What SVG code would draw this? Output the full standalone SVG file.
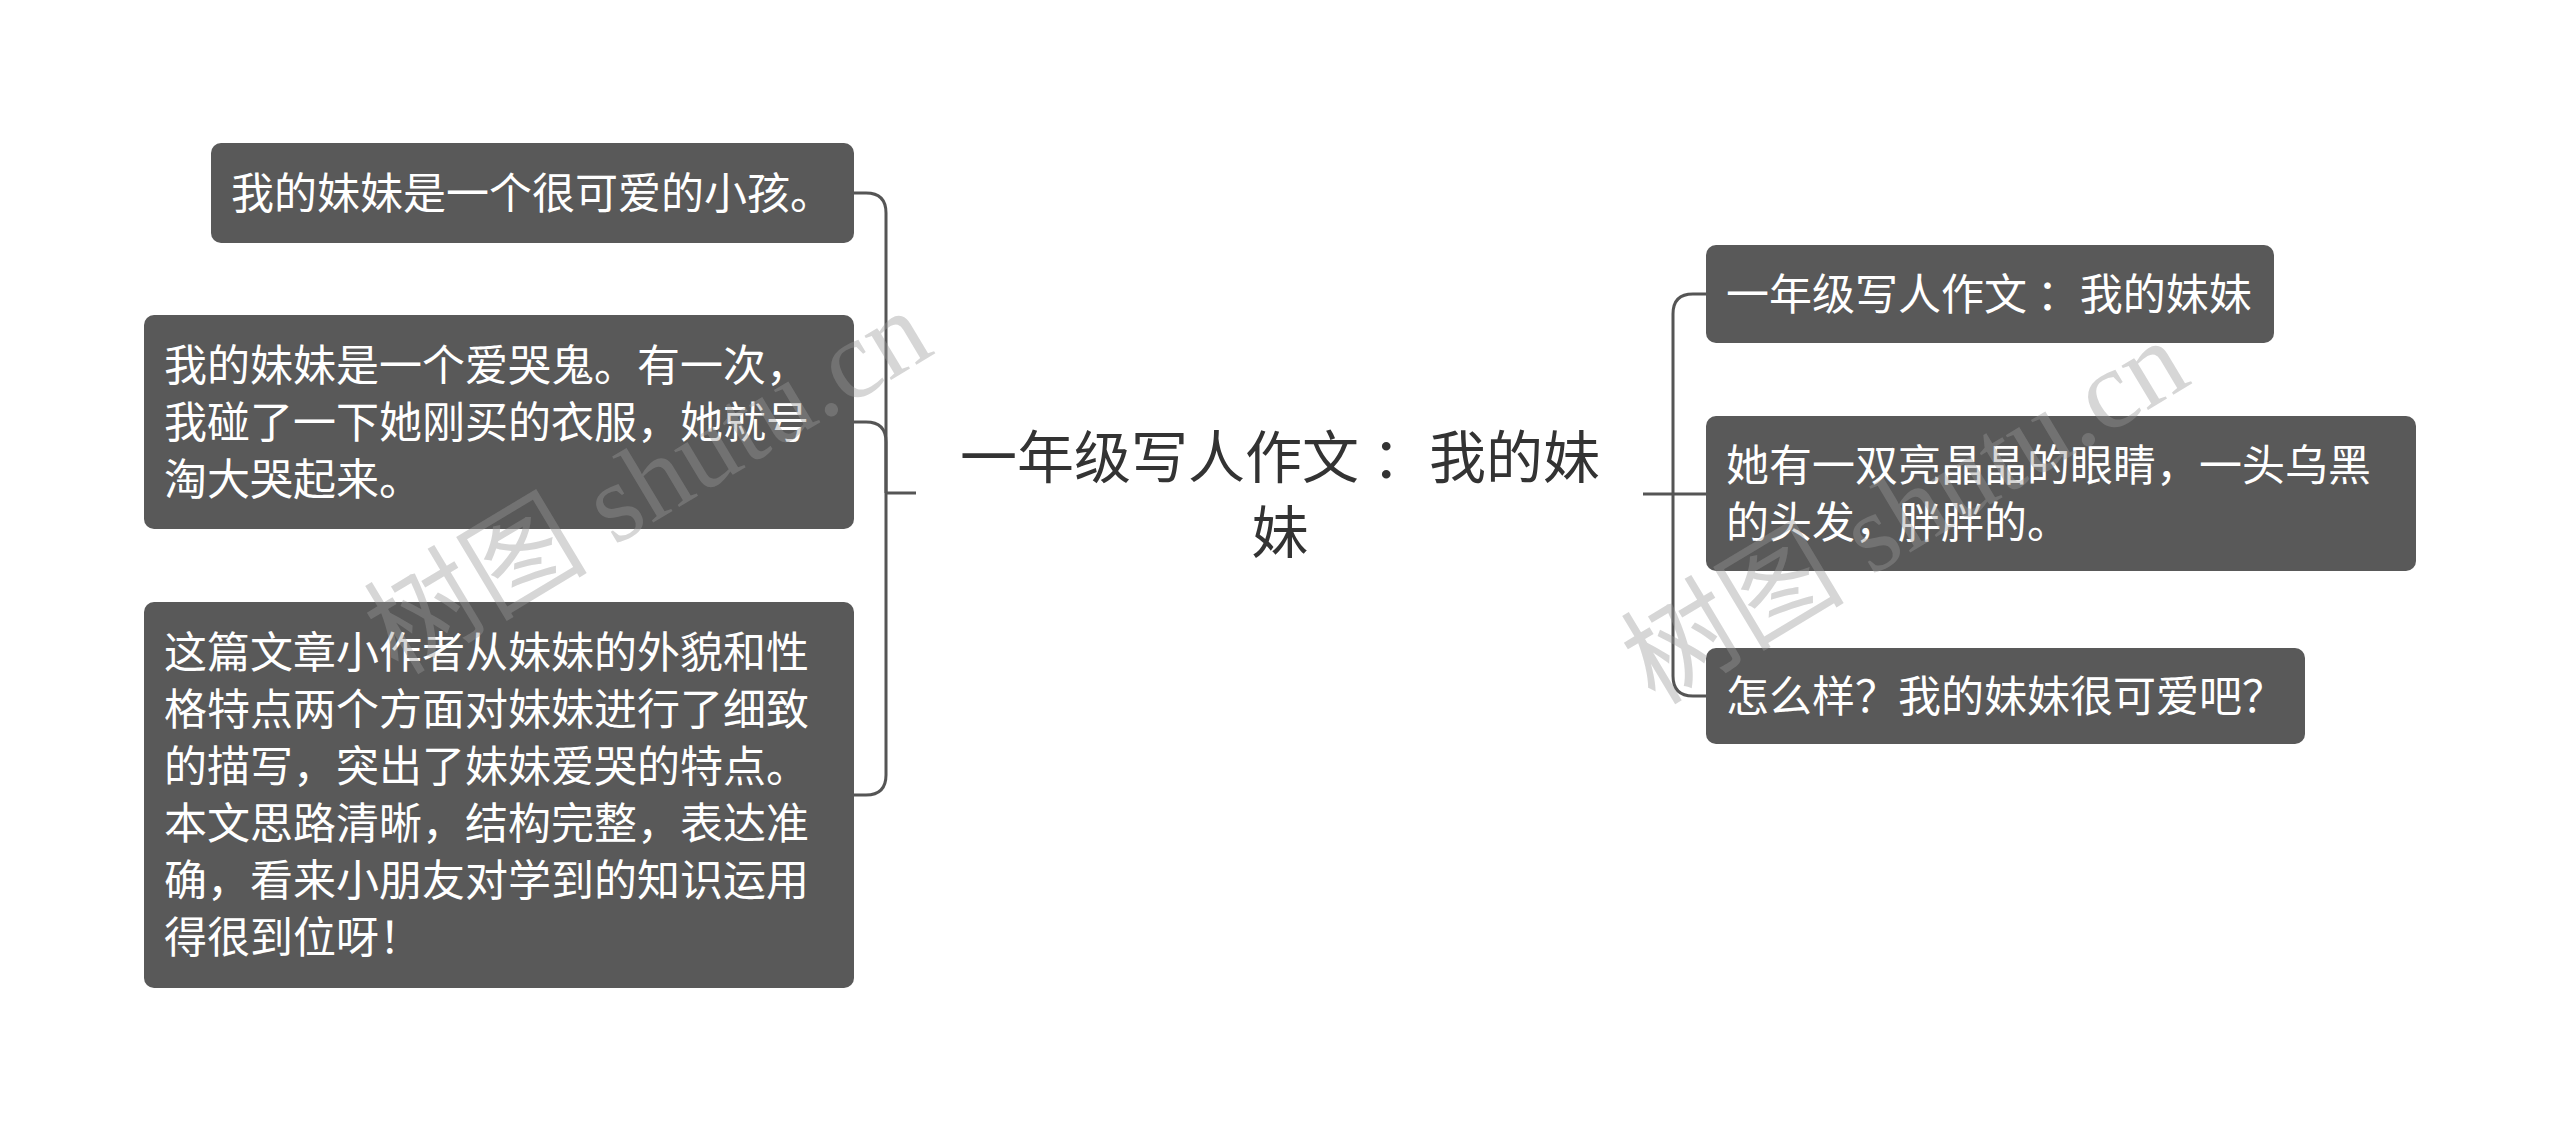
<svg xmlns="http://www.w3.org/2000/svg" width="2560" height="1132" viewBox="0 0 2560 1132">
<style>
.box{fill:#595959;}
.t{font-family:"Noto Sans CJK SC","Noto Sans",sans-serif;font-size:43px;fill:#ffffff;}
.root{font-family:"Noto Sans CJK SC","Noto Sans",sans-serif;font-size:57px;fill:#333333;text-anchor:middle;}
.c{fill:none;stroke:#555555;stroke-width:3;}
.wm{font-family:"Liberation Serif","Noto Sans CJK SC",serif;font-size:112px;fill:#999999;fill-opacity:0.4;}
</style>
<rect width="2560" height="1132" fill="#ffffff"/>
<g id="connectors">
<path class="c" d="M916 493 H886"/>
<path class="c" d="M886 493 V213 Q886 193 866 193 H854"/>
<path class="c" d="M886 493 V442 Q886 422 866 422 H854"/>
<path class="c" d="M886 493 V775 Q886 795 866 795 H854"/>
<path class="c" d="M1643 494 H1673"/>
<path class="c" d="M1673 494 V314 Q1673 294 1693 294 H1706"/>
<path class="c" d="M1673 494 H1706"/>
<path class="c" d="M1673 494 V676 Q1673 696 1693 696 H1706"/>
</g>
<g id="root">
<text class="root" x="1280" y="478">一年级写人作文 ：我的妹</text>
<text class="root" x="1280" y="553">妹</text>
</g>
<g id="left1">
<rect class="box" x="211" y="143" width="643" height="100" rx="10"/>
<text class="t" x="231" y="209">我的妹妹是一个很可爱的小孩。</text>
</g>
<g id="left2">
<rect class="box" x="144" y="315" width="710" height="214" rx="10"/>
<text class="t" x="164" y="381">我的妹妹是一个爱哭鬼。有一次，</text>
<text class="t" x="164" y="438">我碰了一下她刚买的衣服，她就号</text>
<text class="t" x="164" y="495">淘大哭起来。</text>
</g>
<g id="left3">
<rect class="box" x="144" y="602" width="710" height="386" rx="10"/>
<text class="t" x="164" y="668">这篇文章小作者从妹妹的外貌和性</text>
<text class="t" x="164" y="725">格特点两个方面对妹妹进行了细致</text>
<text class="t" x="164" y="782">的描写，突出了妹妹爱哭的特点。</text>
<text class="t" x="164" y="839">本文思路清晰，结构完整，表达准</text>
<text class="t" x="164" y="896">确，看来小朋友对学到的知识运用</text>
<text class="t" x="164" y="953">得很到位呀！</text>
</g>
<g id="right1">
<rect class="box" x="1706" y="245" width="568" height="98" rx="10"/>
<text class="t" x="1726" y="310">一年级写人作文 ：我的妹妹</text>
</g>
<g id="right2">
<rect class="box" x="1706" y="416" width="710" height="155" rx="10"/>
<text class="t" x="1726" y="481">她有一双亮晶晶的眼睛，一头乌黑</text>
<text class="t" x="1726" y="538">的头发，胖胖的。</text>
</g>
<g id="right3">
<rect class="box" x="1706" y="648" width="599" height="96" rx="10"/>
<text class="t" x="1726" y="712">怎么样？我的妹妹很可爱吧？</text>
</g>
<g id="watermarks">
<text class="wm" transform="translate(398 676) rotate(-31)">树图 shutu.cn</text>
<text class="wm" transform="translate(1655 706) rotate(-31)">树图 shutu.cn</text>
</g>
</svg>
